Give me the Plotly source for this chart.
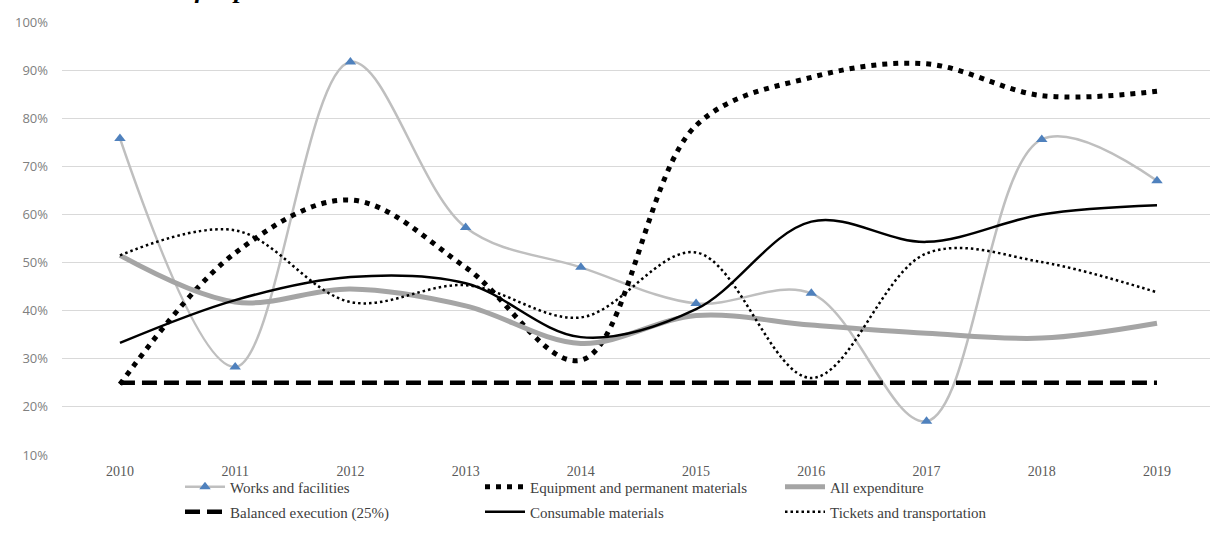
import plotly.graph_objects as go

years = [2010, 2011, 2012, 2013, 2014, 2015, 2016, 2017, 2018, 2019]

works_facilities = [75.8, 28.3, 91.7, 57.3, 49.0, 41.5, 43.6, 17.0, 75.6, 67.0]
equipment_permanent = [24.7, 52.0, 63.0, 49.0, 29.7, 78.5, 88.5, 91.3, 84.7, 85.6]
all_expenditure = [51.5, 41.8, 44.5, 41.0, 33.2, 39.0, 37.0, 35.3, 34.3, 37.4]
balanced_execution = [25, 25, 25, 25, 25, 25, 25, 25, 25, 25]
consumable = [33.3, 42.2, 47.0, 45.7, 34.5, 40.3, 58.5, 54.3, 60.0, 61.9]
tickets_transport = [51.5, 56.7, 41.8, 45.3, 38.6, 52.1, 26.0, 51.9, 50.1, 43.8]

y_ticks = [10, 20, 30, 40, 50, 60, 70, 80, 90, 100]
y_tick_labels = [f"{v}%" for v in y_ticks]

SERIF = "Liberation Serif, Times New Roman, serif"

# Plot area in pixels (used to place the legend entries in paper coordinates)
W, H = 1210, 536
M_L, M_R, M_T, M_B = 62, 0, 22, 81
PW, PH = W - M_L - M_R, H - M_T - M_B


def px_x(px):
    return (px - M_L) / PW


def px_y(py):
    return (H - M_B - py) / PH


# legend slot of every series: (legend id, column left px, row centre px)
slots = {
    "Works and facilities": ("legend", 180, 487),
    "Equipment and permanent materials": ("legend2", 480, 487),
    "All expenditure": ("legend3", 780, 487),
    "Balanced execution (25%)": ("legend4", 180, 512),
    "Consumable materials": ("legend5", 480, 512),
    "Tickets and transportation": ("legend6", 780, 512),
}

fig = go.Figure()

fig.add_trace(go.Scatter(
    x=years, y=works_facilities, name="Works and facilities",
    mode="lines+markers",
    line=dict(color="#BFBFBF", width=2.5, shape="spline", smoothing=1.0),
    marker=dict(symbol="triangle-up", size=10, color="#4F81BD"),
))
fig.add_trace(go.Scatter(
    x=years, y=equipment_permanent, name="Equipment and permanent materials",
    mode="lines",
    line=dict(color="#000000", width=5, dash="5px,6px", shape="spline", smoothing=1.0),
))
fig.add_trace(go.Scatter(
    x=years, y=all_expenditure, name="All expenditure",
    mode="lines",
    line=dict(color="#A5A5A5", width=5, shape="spline", smoothing=1.0),
))
fig.add_trace(go.Scatter(
    x=years, y=balanced_execution, name="Balanced execution (25%)",
    mode="lines",
    line=dict(color="#000000", width=4.5, dash="15px,7px"),
))
fig.add_trace(go.Scatter(
    x=years, y=consumable, name="Consumable materials",
    mode="lines",
    line=dict(color="#000000", width=2.5, shape="spline", smoothing=1.0),
))
fig.add_trace(go.Scatter(
    x=years, y=tickets_transport, name="Tickets and transportation",
    mode="lines",
    line=dict(color="#000000", width=2.5, dash="2.5px,3px", shape="spline", smoothing=1.0),
))

legend_layout = {}
for tr in fig.data:
    lg, lx, ly = slots[tr.name]
    tr.legend = lg
    legend_layout[lg] = dict(
        orientation="v", x=px_x(lx), y=px_y(ly), xanchor="left", yanchor="middle",
        font=dict(family=SERIF, size=15, color="#404040"),
        bgcolor="rgba(0,0,0,0)", itemwidth=40,
    )

# Heading of the figure, running off the top edge of the page
fig.add_annotation(
    text="<b><i>Execution rate of expenditure</i></b>",
    xref="paper", yref="paper", x=px_x(14), y=px_y(6.5),
    xanchor="left", yanchor="bottom", showarrow=False,
    font=dict(family=SERIF, size=26, color="#000000"),
)

fig.update_layout(
    width=W, height=H,
    margin=dict(l=M_L, r=M_R, t=M_T, b=M_B, autoexpand=False),
    paper_bgcolor="white", plot_bgcolor="white",
    showlegend=True,
    xaxis=dict(
        range=[2009.497, 2019.46],
        tickvals=years, ticktext=[str(y) for y in years],
        showgrid=False, zeroline=False, showline=False,
        tickfont=dict(family=SERIF, size=14, color="#595959"),
        ticks="", ticklabelstandoff=6,
    ),
    yaxis=dict(
        range=[10, 100], tickvals=y_ticks, ticktext=y_tick_labels,
        showgrid=True, gridcolor="#D9D9D9", gridwidth=1,
        zeroline=False, showline=False, ticks="", ticklabelstandoff=13,
        tickfont=dict(family="Open Sans, Noto Sans, sans-serif", size=13, color="#808080"),
    ),
    **legend_layout,
)

fig.write_html("out.html")
